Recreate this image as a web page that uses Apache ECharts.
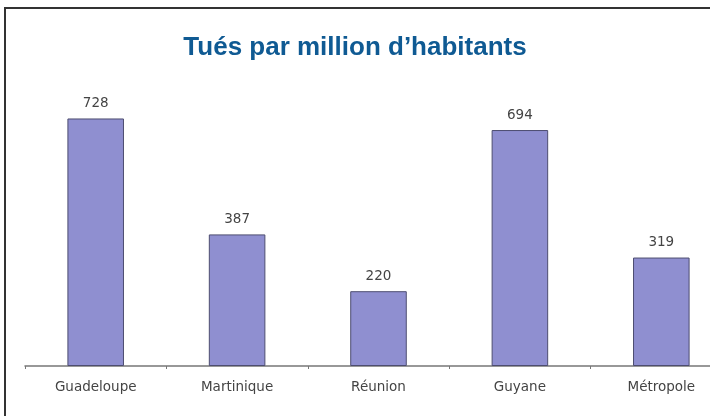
<!DOCTYPE html>
<html>
<head>
<meta charset="utf-8">
<script src="https://cdn.jsdelivr.net/npm/echarts@6/dist/echarts.min.js"></script>
<style>
  html, body { margin: 0; padding: 0; background: #fff; }
  #chart { width: 710px; height: 416px; }
</style>
</head>
<body>
<div id="chart"></div>
<script>
// Tués par million d'habitants
const categories = ['Guadeloupe', 'Martinique', 'Réunion', 'Guyane', 'Métropole'];
const tues = [728, 387, 220, 694, 319];

const myChart = echarts.init(document.getElementById('chart'));
const option = {
  backgroundColor: '#fff',
  animation: false,
  title: {
    text: 'Tués par million d’habitants',
    left: 'center',
    top: 30,
    textStyle: {
      fontFamily: 'Liberation Sans, Arial',
      fontSize: 26,
      fontWeight: 'bold',
      color: '#0f5a93'
    }
  },
  graphic: [{
    // cadre (haut + gauche visibles)
    type: 'rect',
    shape: { x: 5, y: 8, width: 800, height: 500 },
    style: { fill: null, stroke: '#333', lineWidth: 2 },
    silent: true
  }],
  grid: { left: 25, top: 94, width: 707, height: 272, outerBoundsMode: 'none' },
  xAxis: {
    type: 'category',
    data: categories,
    axisLine: { lineStyle: { color: '#777', width: 1.5 } },
    axisTick: { show: true, length: 3, lineStyle: { color: '#777' } },
    axisLabel: {
      margin: 14,
      fontFamily: 'DejaVu Sans',
      fontSize: 13.5,
      color: '#444'
    }
  },
  yAxis: {
    type: 'value',
    min: 0,
    max: 800,
    show: false,
    splitLine: { show: false }
  },
  series: [{
    type: 'bar',
    data: tues,
    barWidth: '40%',
    itemStyle: {
      color: '#8f8fd0',
      borderColor: '#4d4d70',
      borderWidth: 1
    },
    label: {
      show: true,
      position: 'top',
      distance: 8,
      fontFamily: 'DejaVu Sans',
      fontSize: 13.5,
      color: '#444'
    }
  }]
};
myChart.setOption(option);
</script>
</body>
</html>
